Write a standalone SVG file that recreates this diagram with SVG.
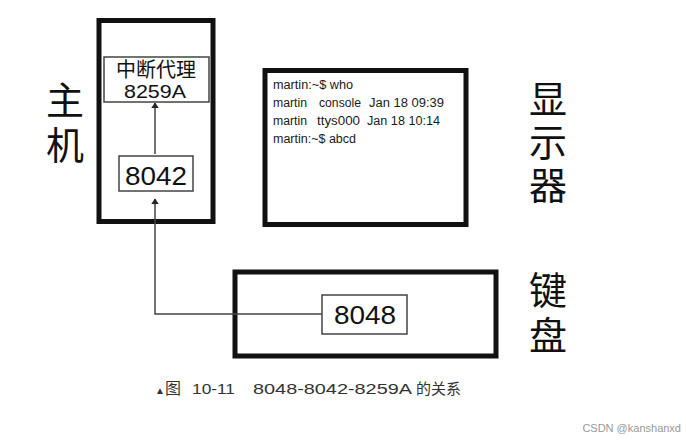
<svg xmlns="http://www.w3.org/2000/svg" width="686" height="444" viewBox="0 0 686 444">
<style>
.frame{fill:#fff;stroke:#111;stroke-width:5}
.box{fill:#fff;stroke:#444;stroke-width:1.5}
.num{font-family:"Liberation Sans",Arial,sans-serif;fill:#111;text-anchor:middle}
.cjk{font-family:"Noto Sans CJK SC",sans-serif;fill:#111}
.vert{font-family:"Noto Sans CJK SC",sans-serif;fill:#111;font-size:38px;writing-mode:vertical-rl;text-anchor:start}
.term{font-family:"Liberation Sans",Arial,sans-serif;font-size:12px;fill:#1a1a1a}
.line{fill:none;stroke:#444;stroke-width:1.5}
.cap{font-family:"Liberation Sans",Arial,sans-serif;font-size:15px;fill:#333}
</style>
<defs>
<marker id="ah" viewBox="0 0 10 10" refX="9" refY="5" markerWidth="6" markerHeight="8" markerUnits="userSpaceOnUse" orient="auto" preserveAspectRatio="none">
<path d="M0,0 L10,5 L0,10 z" fill="#222"/>
</marker>
</defs>
<rect width="686" height="444" fill="#fff"/>

<g id="host">
<rect class="frame" x="99" y="20.5" width="114" height="201"/>
<text class="vert" x="65" y="81" letter-spacing="7">主机</text>
</g>

<g id="pic8259">
<rect class="box" x="104" y="57" width="105" height="45"/>
<text class="cjk" x="156" y="77" font-size="20" text-anchor="middle">中断代理</text>
<text class="num" x="155" y="98" font-size="18" textLength="62" lengthAdjust="spacingAndGlyphs">8259A</text>
</g>

<g id="kbc8042">
<rect class="box" x="119" y="156" width="74" height="35"/>
<text class="num" x="156" y="185" font-size="26" textLength="62" lengthAdjust="spacingAndGlyphs">8042</text>
</g>

<g id="display">
<rect class="frame" x="265" y="70.5" width="201" height="154"/>
<text class="term" x="273" y="89" textLength="80" lengthAdjust="spacingAndGlyphs">martin:~$ who</text>
<text class="term" y="107"><tspan x="273" textLength="34" lengthAdjust="spacingAndGlyphs">martin</tspan><tspan x="319" textLength="42" lengthAdjust="spacingAndGlyphs">console</tspan><tspan x="369" textLength="75" lengthAdjust="spacingAndGlyphs">Jan 18 09:39</tspan></text>
<text class="term" y="125"><tspan x="273" textLength="34" lengthAdjust="spacingAndGlyphs">martin</tspan><tspan x="317" textLength="43" lengthAdjust="spacingAndGlyphs">ttys000</tspan><tspan x="367" textLength="73" lengthAdjust="spacingAndGlyphs">Jan 18 10:14</tspan></text>
<text class="term" x="273" y="143" textLength="83" lengthAdjust="spacingAndGlyphs">martin:~$ abcd</text>
<text class="vert" x="548" y="80" letter-spacing="5">显示器</text>
</g>

<g id="keyboard">
<rect class="frame" x="235" y="272" width="261" height="84"/>
<text class="vert" x="548" y="271" letter-spacing="7">键盘</text>
</g>

<g id="kbd8048">
<rect class="box" x="322" y="295" width="85" height="39"/>
<text class="num" x="365" y="324" font-size="26" textLength="62" lengthAdjust="spacingAndGlyphs">8048</text>
</g>

<g id="connectors">
<path class="line" d="M155,154 L155,103" marker-end="url(#ah)"/>
<path class="line" d="M322,314 L155,314 L155,199" marker-end="url(#ah)"/>
</g>

<g id="caption">
<text class="cap" y="394"><tspan x="155" font-size="10">▲</tspan><tspan x="165" font-family="'Noto Sans CJK SC',sans-serif" font-size="16">图</tspan><tspan x="192" textLength="43" lengthAdjust="spacingAndGlyphs">10-11</tspan><tspan x="253" textLength="159" lengthAdjust="spacingAndGlyphs">8048-8042-8259A</tspan><tspan x="416" font-family="'Noto Sans CJK SC',sans-serif" font-size="15">的关系</tspan></text>
<text x="681" y="432" text-anchor="end" font-family="'Liberation Sans',sans-serif" font-size="11" fill="#999">CSDN @kanshanxd</text>
</g>
</svg>
